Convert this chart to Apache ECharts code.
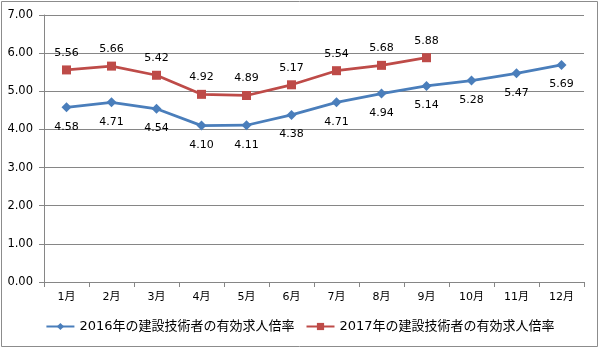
<!DOCTYPE html>
<html>
<head>
<meta charset="utf-8">
<script src="https://cdn.jsdelivr.net/npm/echarts@6/dist/echarts.min.js"></script>
<style>
  html, body { margin: 0; padding: 0; background: #fff; }
  #chart { width: 600px; height: 349px; }
</style>
</head>
<body>
<div id="chart"></div>
<script>
// Monthly job-openings ratio for construction engineers
const months = ['1月', '2月', '3月', '4月', '5月', '6月', '7月', '8月', '9月', '10月', '11月', '12月'];
const ratio2016 = [4.58, 4.71, 4.54, 4.10, 4.11, 4.38, 4.71, 4.94, 5.14, 5.28, 5.47, 5.69];
const ratio2017 = [5.56, 5.66, 5.42, 4.92, 4.89, 5.17, 5.54, 5.68, 5.88];
const name2016 = '2016年の建設技術者の有効求人倍率';
const name2017 = '2017年の建設技術者の有効求人倍率';

const FONT = '"DejaVu Sans", "Noto Sans CJK JP", sans-serif';
const chart = echarts.init(document.getElementById('chart'), null, { renderer: 'canvas' });

chart.setOption({
  animation: false,
  backgroundColor: '#fff',
  textStyle: { fontFamily: FONT },
  graphic: [{
    type: 'rect',
    shape: { x: 1.5, y: 1.5, width: 596, height: 345 },
    style: { fill: 'none', stroke: '#8c8c8c', lineWidth: 1 },
    silent: true
  }],
  grid: { left: 44, right: 16, top: 15, bottom: 67, containLabel: false },
  legend: {
    bottom: 11,
    left: 'center',
    itemWidth: 28,
    itemHeight: 9,
    itemGap: 11,
    textStyle: { fontFamily: FONT, fontSize: 13, color: '#000' },
    data: [name2016, name2017]
  },
  xAxis: {
    type: 'category',
    data: months,
    boundaryGap: true,
    axisLine: { lineStyle: { color: '#868686', width: 1 } },
    axisTick: { show: true, length: 5, lineStyle: { color: '#868686' } },
    axisLabel: { color: '#000', fontSize: 11, fontFamily: FONT, margin: 10 }
  },
  yAxis: {
    type: 'value',
    min: 0,
    max: 7,
    interval: 1,
    axisLine: { show: true, lineStyle: { color: '#868686', width: 1 } },
    axisTick: { show: true, length: 5, lineStyle: { color: '#868686' } },
    axisLabel: {
      color: '#000', fontSize: 11.5, fontFamily: FONT, margin: 11,
      formatter: v => v.toFixed(2)
    },
    splitLine: { lineStyle: { color: '#868686', width: 1 } }
  },
  series: [
    {
      name: name2016,
      type: 'line',
      data: ratio2016,
      symbol: 'diamond',
      symbolSize: 10,
      lineStyle: { color: '#4a7ebb', width: 2.75 },
      itemStyle: { color: '#4a7ebb' },
      label: {
        show: true, position: 'bottom', distance: 9,
        color: '#000', fontSize: 11, fontFamily: FONT,
        formatter: p => p.value.toFixed(2)
      }
    },
    {
      name: name2017,
      type: 'line',
      data: ratio2017,
      symbol: 'rect',
      symbolSize: 9,
      lineStyle: { color: '#be4b48', width: 2.75 },
      itemStyle: { color: '#be4b48' },
      label: {
        show: true, position: 'top', distance: 7,
        color: '#000', fontSize: 11, fontFamily: FONT,
        formatter: p => p.value.toFixed(2)
      }
    }
  ]
});
</script>
</body>
</html>
